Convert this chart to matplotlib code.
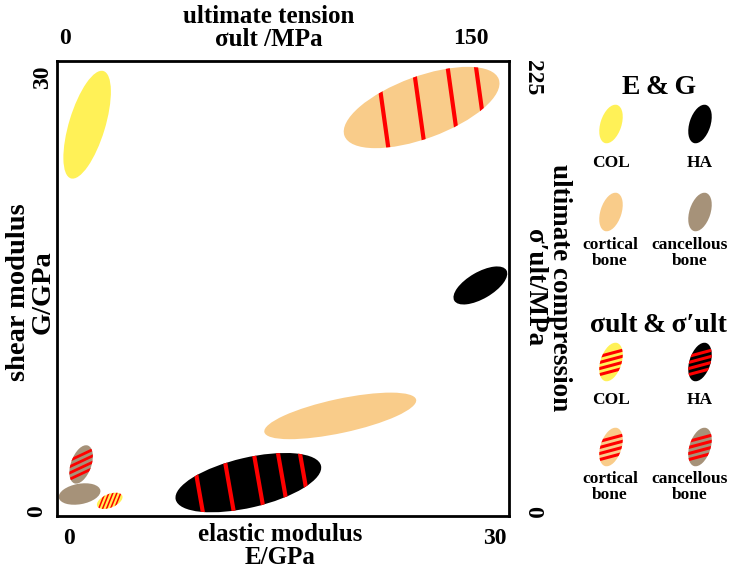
import matplotlib
matplotlib.use("Agg")
import matplotlib.pyplot as plt
from matplotlib.patches import Ellipse
import numpy as np

plt.rcParams['font.family'] = ['Liberation Serif', 'DejaVu Serif']
plt.rcParams['font.weight'] = 'bold'

W, H = 733, 573

# colours of the four materials
colors = {"COL": "#FFF157", "HA": "#000000",
          "cortical bone": "#F9CC8A", "cancellous bone": "#A69279"}
RED = "#FF0000"

# axis ranges
E_max, G_max = 30, 30          # GPa
t_max, c_max = 150, 225        # MPa

# elastic / shear modulus regions (GPa)
eg_names = ["COL", "HA", "cortical bone", "cancellous bone"]
eg_E = [2.0, 28.1, 18.8, 1.5]
eg_G = [25.8, 15.2, 6.6, 1.45]
eg_len = [7.4, 4.0, 10.3, 2.8]
eg_wid = [2.4, 1.75, 2.25, 1.35]
eg_ang = [73, 30, 12, 10]

# ultimate tension / compression regions (MPa)
st_names = ["COL", "HA", "cortical bone", "cancellous bone"]
st_t = [17.5, 63.5, 121.0, 8.0]
st_c = [7.5, 16.5, 202.0, 25.5]
st_len = [1.8, 9.9, 10.9, 2.65]
st_wid = [0.9, 3.3, 4.1, 1.35]
st_ang = [22, 13, 20, 70]
stripe_ang = [68, 100, 98, 25]
stripe_pos = [[-0.75, -0.38, 0.0, 0.38, 0.75],
              [-0.67, -0.26, 0.14, 0.46, 0.75],
              [-0.48, -0.03, 0.39, 0.74],
              [-0.6, -0.2, 0.2, 0.6]]
stripe_lw = [1.1, 3, 3, 2]


def striped(ax, xy, length, width, ang, color, s_ang, s_pos, lw):
    e = Ellipse(xy, length, width, angle=ang, facecolor=color, edgecolor='none')
    ax.add_patch(e)
    a = np.deg2rad(ang)
    s = np.deg2rad(s_ang)
    for f in s_pos:
        px = xy[0] + f * length / 2 * np.cos(a)
        py = xy[1] + f * length / 2 * np.sin(a)
        L = length
        ln, = ax.plot([px - L * np.cos(s), px + L * np.cos(s)],
                      [py - L * np.sin(s), py + L * np.sin(s)],
                      color=RED, lw=lw, solid_capstyle='butt')
        ln.set_clip_path(e)


fig = plt.figure(figsize=(W / 100, H / 100), dpi=100)

# overlay in pixel units for labels and the key
ov = fig.add_axes([0, 0, 1, 1])
ov.set_xlim(0, W)
ov.set_ylim(0, H)
ov.axis('off')


def Y(py):
    return H - py


ax = fig.add_axes([57 / W, 1 - 516 / H, 452 / W, 455 / H])
ax.set_xlim(0, E_max)
ax.set_ylim(0, G_max)
ax.set_xticks([])
ax.set_yticks([])
for sp in ax.spines.values():
    sp.set_linewidth(2)

for i, n in enumerate(eg_names):
    ax.add_patch(Ellipse((eg_E[i], eg_G[i]), eg_len[i], eg_wid[i], angle=eg_ang[i],
                         facecolor=colors[n], edgecolor='none'))

for i, n in enumerate(st_names):
    xy = (st_t[i] * E_max / t_max, st_c[i] * G_max / c_max)
    striped(ax, xy, st_len[i], st_wid[i], st_ang[i], colors[n],
            stripe_ang[i], stripe_pos[i], stripe_lw[i])

# tick labels
tk = dict(fontsize=17, ha='center', va='center')
ov.text(65, Y(39), "0", **tk)
ov.text(471, Y(39), str(t_max), **tk)
ov.text(69, Y(538), "0", **tk)
ov.text(495, Y(538), str(E_max), **tk)
ov.text(43, Y(77), str(G_max), rotation=90, **tk)
ov.text(37, Y(511), "0", rotation=90, **tk)
ov.text(533, Y(78), str(c_max), rotation=270, **tk)
ov.text(533, Y(512), "0", rotation=270, **tk)

# axis titles
lb = dict(fontsize=18, ha='center', va='center', linespacing=1.0)
ov.text(269, Y(28), "ultimate tension\nσult /MPa", **lb)
ov.text(280, Y(546), "elastic modulus\nE/GPa", **lb)
ov.text(31, Y(292), "shear modulus\nG/GPa", rotation=90, **dict(lb, fontsize=20.5))
ov.text(547, Y(288), "ultimate compression\nσ′ult/MPa", rotation=270,
        **dict(lb, fontsize=19.5))

# key
cols = [611, 700]
lab_x = [610, 690]
key_names = ["COL", "HA", "cortical\nbone", "cancellous\nbone"]
kt = dict(fontsize=12.5, ha='center', va='top', linespacing=1.0)

ov.text(659, Y(88), "E\u2009&\u2009G", fontsize=20, ha='center', va='center')
for i, n in enumerate(eg_names):
    cx = cols[i % 2]
    cy = [124, 212][i // 2]
    ov.add_patch(Ellipse((cx, Y(cy)), 40, 21, angle=72,
                         facecolor=colors[n], edgecolor='none'))
    ov.text(lab_x[i % 2] if i >= 2 else cx, Y([155, 237][i // 2]), key_names[i], **kt)

ov.text(658, Y(325), "σult\u2009&\u2009σ′ult", fontsize=20, ha='center', va='center')
for i, n in enumerate(st_names):
    cx = cols[i % 2]
    cy = [362, 447][i // 2]
    striped(ov, (cx, Y(cy)), 40, 21, 72, colors[n], 15,
            [-0.55, -0.2, 0.15, 0.5], 2.2)
    ov.text(lab_x[i % 2] if i >= 2 else cx, Y([392, 471][i // 2]), key_names[i], **kt)

fig.savefig("out.png", dpi=100)
